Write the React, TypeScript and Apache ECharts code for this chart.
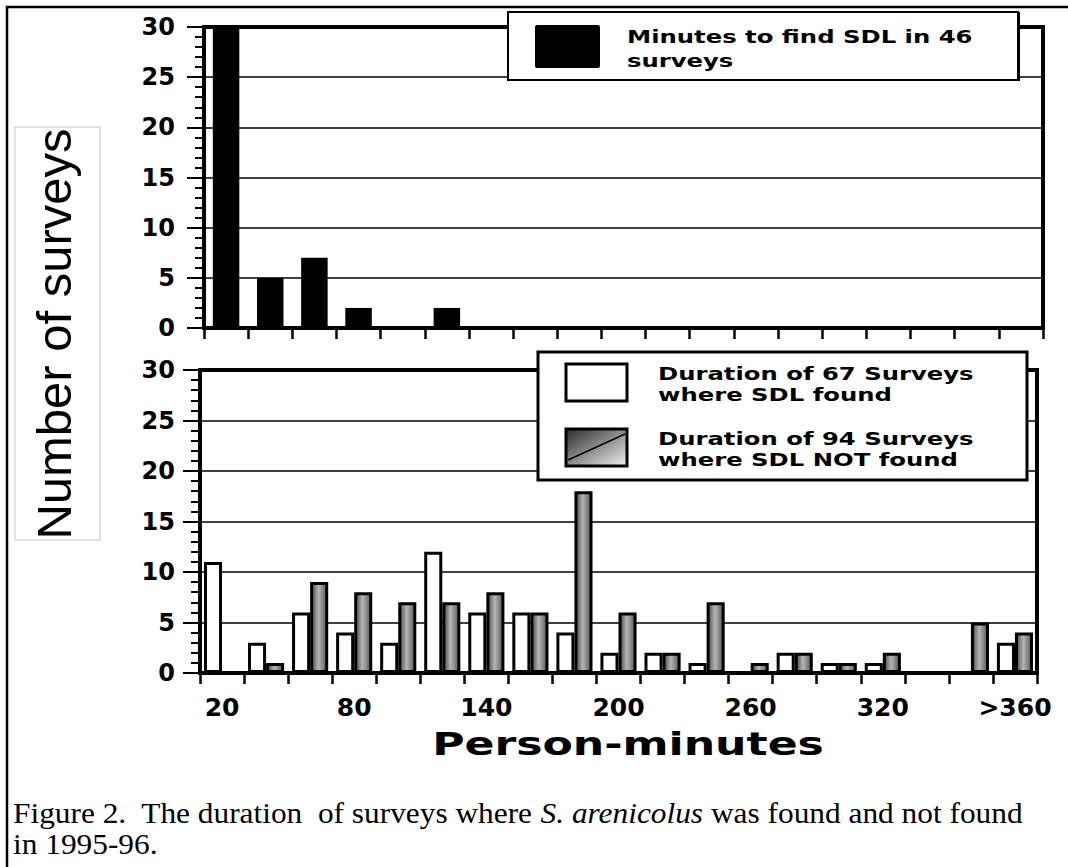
import React, { useEffect, useRef } from "react";
import * as echarts from "echarts";

const categories = ["20", "40", "60", "80", "100", "120", "140", "160", "180", "200", "220", "240", "260", "280", "300", "320", "340", "360", ">360"];
const minutesToFind = [30, 5, 7, 2, 0, 2, 0, 0, 0, 0, 0, 0, 0, 0, 0, 0, 0, 0, 0];
const durationFound = [11, 3, 6, 4, 3, 12, 6, 6, 4, 2, 2, 1, 0, 2, 1, 1, 0, 0, 3];
const durationNotFound = [0, 1, 9, 8, 7, 7, 8, 6, 18, 6, 2, 7, 1, 2, 1, 2, 0, 5, 4];
const yMin = 0;
const yMax = 30;
const yStep = 5;

const HEAVY = "'DejaVu Sans', 'Liberation Sans', sans-serif";
const SERIF = "'Liberation Serif', 'Times New Roman', serif";

function yAxisCfg(gridIndex: number, margin: number) {
  return {
    type: "value",
    gridIndex,
    min: yMin,
    max: yMax,
    interval: yStep,
    axisLine: { show: true, lineStyle: { color: "#000", width: 3 } },
    axisTick: { show: true, length: 17, lineStyle: { color: "#000", width: 2 } },
    minorTick: { show: true, splitNumber: 5, length: 9, lineStyle: { color: "#000", width: 2 } },
    splitLine: { show: true, lineStyle: { color: "#000", width: 1.6 } },
    axisLabel: { color: "#000", fontFamily: HEAVY, fontWeight: "bold", fontSize: 24, margin },
  };
}

function xAxisCfg(gridIndex: number, showLabels: boolean) {
  return {
    type: "category",
    gridIndex,
    data: categories,
    boundaryGap: true,
    axisLine: { show: true, lineStyle: { color: "#000", width: 3 } },
    axisTick: { show: true, length: 11, interval: 0, lineStyle: { color: "#000", width: 2.5 } },
    axisLabel: {
      show: showLabels,
      interval: 2,
      color: "#000",
      fontFamily: HEAVY,
      fontWeight: "bold",
      fontSize: 25,
      margin: 22,
    },
    splitLine: { show: false },
  };
}

export default function App() {
  const ref = useRef<HTMLDivElement>(null);

  useEffect(() => {
    if (!ref.current) return;
    const chart = echarts.init(ref.current, null, { renderer: "svg" });

    const greyFill = new echarts.graphic.LinearGradient(0, 0, 1, 0, [
      { offset: 0, color: "#4a4a4a" },
      { offset: 0.45, color: "#b5b5b5" },
      { offset: 1, color: "#5a5a5a" },
    ]);
    const legendGrey = new echarts.graphic.LinearGradient(0, 0, 1, 1, [
      { offset: 0, color: "#2a2a2a" },
      { offset: 1, color: "#f0f0f0" },
    ]);

    const Z = 100;
    const legendText = (x: number, y: number, text: string, lh: number) => ({
      type: "text",
      x,
      y,
      scaleX: 1.35,
      z: Z + 2,
      style: {
        text,
        fill: "#000",
        fontFamily: HEAVY,
        fontWeight: "bold",
        fontSize: 18,
        lineHeight: lh,
        align: "left",
        textAlign: "left",
        verticalAlign: "middle",
        textVerticalAlign: "middle",
      },
    });

    const option: any = {
      animation: false,
      backgroundColor: "#fff",
      grid: [
        { left: 204, top: 27, width: 839, height: 301, show: true, borderColor: "#000", borderWidth: 4, backgroundColor: "transparent" },
        { left: 200, top: 370, width: 837, height: 303, show: true, borderColor: "#000", borderWidth: 4, backgroundColor: "transparent" },
      ],
      xAxis: [xAxisCfg(0, false), xAxisCfg(1, true)],
      yAxis: [yAxisCfg(0, 29), yAxisCfg(1, 25)],
      series: [
        {
          name: "Minutes to find SDL in 46 surveys",
          type: "bar",
          xAxisIndex: 0,
          yAxisIndex: 0,
          data: minutesToFind,
          barWidth: "60%",
          itemStyle: { color: "#000" },
        },
        {
          name: "Duration of 67 Surveys where SDL found",
          type: "bar",
          xAxisIndex: 1,
          yAxisIndex: 1,
          data: durationFound,
          barGap: "0%",
          barCategoryGap: "18%",
          itemStyle: { color: "#fff", borderColor: "#000", borderWidth: 3 },
        },
        {
          name: "Duration of 94 Surveys where SDL NOT found",
          type: "bar",
          xAxisIndex: 1,
          yAxisIndex: 1,
          data: durationNotFound,
          barGap: "0%",
          barCategoryGap: "18%",
          itemStyle: { color: greyFill, borderColor: "#000", borderWidth: 3 },
        },
      ],
      graphic: [
        // outer frame
        { type: "rect", z: Z, shape: { x: 7, y: 7, width: 1090, height: 890 }, style: { fill: "none", stroke: "#000", lineWidth: 2.5 } },
        // y-axis title box
        { type: "rect", z: Z, shape: { x: 15, y: 127, width: 85, height: 413 }, style: { fill: "#fff", stroke: "#c4c4c4", lineWidth: 1 } },
        {
          type: "text",
          x: 54,
          y: 334,
          rotation: Math.PI / 2,
          z: Z + 1,
          style: {
            text: "Number of surveys",
            fill: "#000",
            fontFamily: "'Liberation Sans', Arial, sans-serif",
            fontSize: 49,
            align: "center",
            textAlign: "center",
            verticalAlign: "middle",
            textVerticalAlign: "middle",
          },
        },
        // top legend
        { type: "rect", z: Z, shape: { x: 1015, y: 12, width: 5, height: 69 }, style: { fill: "#000" } },
        { type: "rect", z: Z, shape: { x: 508, y: 12, width: 510, height: 68 }, style: { fill: "#fff", stroke: "#000", lineWidth: 2 } },
        { type: "rect", z: Z + 1, shape: { x: 535, y: 25, width: 65, height: 43, r: 2 }, style: { fill: "#000" } },
        legendText(627, 49, "Minutes to find SDL in 46\nsurveys", 24),
        // bottom legend
        { type: "rect", z: Z, shape: { x: 538, y: 352, width: 489, height: 128 }, style: { fill: "#fff", stroke: "#000", lineWidth: 3 } },
        { type: "rect", z: Z + 1, shape: { x: 566, y: 364, width: 61, height: 37 }, style: { fill: "#fff", stroke: "#000", lineWidth: 3 } },
        { type: "rect", z: Z + 1, shape: { x: 566, y: 429, width: 61, height: 37 }, style: { fill: legendGrey, stroke: "#000", lineWidth: 3 } },
        { type: "line", z: Z + 2, shape: { x1: 568, y1: 460, x2: 625, y2: 434 }, style: { stroke: "#000", lineWidth: 1.5 } },
        legendText(658, 384.5, "Duration of 67 Surveys\nwhere SDL found", 21),
        legendText(658, 449.5, "Duration of 94 Surveys\nwhere SDL NOT found", 21),
        // x-axis title
        {
          type: "text",
          x: 628,
          y: 744,
          scaleX: 1.38,
          z: Z,
          style: {
            text: "Person-minutes",
            fill: "#000",
            fontFamily: HEAVY,
            fontWeight: "bold",
            fontSize: 32,
            align: "center",
            textAlign: "center",
            verticalAlign: "middle",
            textVerticalAlign: "middle",
          },
        },
        // caption
        {
          type: "text",
          x: 13,
          y: 813,
          scaleX: 1.045,
          z: Z,
          style: {
            text: "Figure 2.  The duration  of surveys where {i|S. arenicolus} was found and not found",
            fill: "#000",
            fontFamily: SERIF,
            fontSize: 30,
            align: "left",
            textAlign: "left",
            verticalAlign: "middle",
            textVerticalAlign: "middle",
            rich: {
              i: { fontStyle: "italic", fontFamily: SERIF, fontSize: 30, fill: "#000" },
            },
          },
        },
        {
          type: "text",
          x: 13,
          y: 844,
          scaleX: 1.045,
          z: Z,
          style: {
            text: "in 1995-96.",
            fill: "#000",
            fontFamily: SERIF,
            fontSize: 30,
            align: "left",
            textAlign: "left",
            verticalAlign: "middle",
            textVerticalAlign: "middle",
          },
        },
      ],
    };

    chart.setOption(option);
    return () => chart.dispose();
  }, []);

  return (
    <div
      ref={ref}
      style={{ position: "absolute", left: 0, top: 0, width: 1068, height: 867, background: "#fff" }}
    />
  );
}
